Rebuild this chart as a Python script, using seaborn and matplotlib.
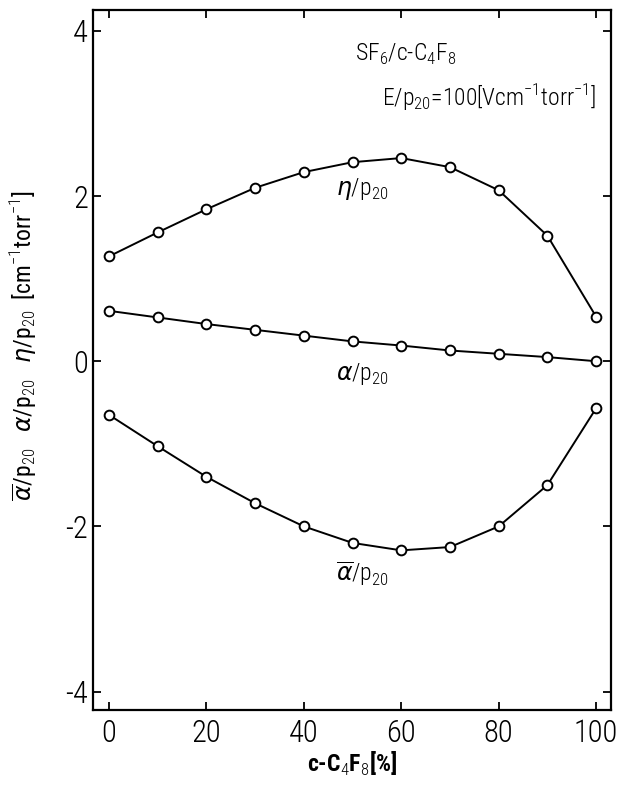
import numpy as np
import pandas as pd
import matplotlib
matplotlib.use("Agg")
import matplotlib.pyplot as plt
import seaborn as sns

# data
c4f8_pct = [0, 10, 20, 30, 40, 50, 60, 70, 80, 90, 100]
eta_p20 = [1.27, 1.56, 1.84, 2.10, 2.29, 2.41, 2.46, 2.35, 2.07, 1.52, 0.54]
alpha_p20 = [0.61, 0.53, 0.45, 0.38, 0.31, 0.24, 0.19, 0.13, 0.09, 0.05, 0.00]
alphabar_p20 = [-0.65, -1.03, -1.40, -1.72, -2.00, -2.20, -2.29, -2.25, -2.00, -1.50, -0.57]
x_ticks = [0, 20, 40, 60, 80, 100]
y_ticks = [-4, -2, 0, 2, 4]

sns.set_theme(style="ticks")
FONT = "Roboto Condensed"
plt.rcParams["font.family"] = [FONT, "DejaVu Sans"]
plt.rcParams["font.weight"] = "light"
plt.rcParams["mathtext.fontset"] = "custom"
plt.rcParams["mathtext.rm"] = FONT + ":light"
plt.rcParams["mathtext.it"] = "DejaVu Sans:italic"
plt.rcParams["mathtext.bf"] = FONT + ":bold"
plt.rcParams["axes.unicode_minus"] = False
plt.rcParams["text.color"] = "black"
plt.rcParams["axes.labelcolor"] = "black"

fig = plt.figure(figsize=(6.2, 7.86), dpi=100)
ax = fig.add_axes([0.15, 0.097, 0.835, 0.89])

df = pd.DataFrame({"x": c4f8_pct * 3,
                   "y": eta_p20 + alpha_p20 + alphabar_p20,
                   "s": ["eta"] * 11 + ["alpha"] * 11 + ["alphabar"] * 11})
sns.lineplot(data=df, x="x", y="y", units="s", estimator=None, color="black",
             lw=1.4, marker="o", markersize=7, markerfacecolor="white",
             markeredgecolor="black", markeredgewidth=1.4, ax=ax, legend=False)

ax.set_xlim(-3.3, 103)
ax.set_ylim(-4.22, 4.25)
ax.set_xticks(x_ticks)
ax.set_yticks(y_ticks)
ax.tick_params(direction="in", top=True, right=True, length=6, width=1.3,
               labelsize=22, colors="black")
ax.tick_params(axis="x", pad=7)
for lbl in ax.get_xticklabels() + ax.get_yticklabels():
    lbl.set_fontweight("light")
for s in ax.spines.values():
    s.set_linewidth(1.6)
    s.set_color("black")

ax.set_xlabel(r"c-C$_4$F$_8$[%]", fontsize=17, fontweight="bold", labelpad=1)
ax.set_ylabel(r"$\overline{\alpha}$/p$_{20}$   $\alpha$/p$_{20}$   $\eta$/p$_{20}$  [cm$^{-1}$torr$^{-1}$]",
              fontsize=17)
ax.yaxis.set_label_coords(-0.105, 0.52)

ax.text(50.5, 3.72, r"SF$_6$/c-C$_4$F$_8$", fontsize=17, va="center", ha="left")
ax.text(56, 3.19, r"E/p$_{20}$=100[Vcm$^{-1}$torr$^{-1}$]", fontsize=17, va="center", ha="left")
ax.text(52, 2.09, r"$\eta$/p$_{20}$", fontsize=17, va="center", ha="center")
ax.text(52, -0.15, r"$\alpha$/p$_{20}$", fontsize=17, va="center", ha="center")
ax.text(52, -2.57, r"$\overline{\alpha}$/p$_{20}$", fontsize=17, va="center", ha="center")

fig.savefig("out.png", dpi=100, facecolor="white")
